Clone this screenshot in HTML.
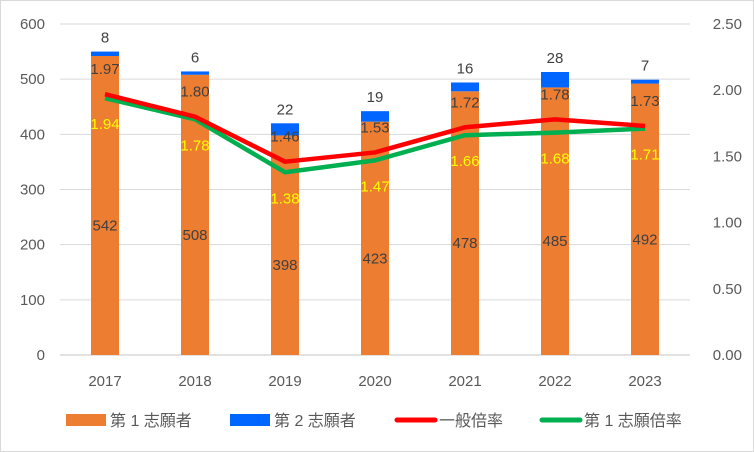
<!DOCTYPE html>
<html><head><meta charset="utf-8"><style>
body{margin:0;background:#fff}
svg{display:block;font-family:"Liberation Sans","Noto Sans CJK JP",sans-serif}
</style></head><body>
<svg id="c" width="754" height="452">
<rect x="0.5" y="0.5" width="753" height="451" fill="#fff" stroke="#d9d9d9"/>
<g id="g"></g>
</svg>
<script>
const years=['2017','2018','2019','2020','2021','2022','2023'];
const first=[542,508,398,423,478,485,492];
const second=[8,6,22,19,16,28,7];
const generalRate=[1.97,1.80,1.46,1.53,1.72,1.78,1.73];
const firstRate=[1.94,1.78,1.38,1.47,1.66,1.68,1.71];
const leftTicks=[0,100,200,300,400,500,600];
const rightTicks=['0.00','0.50','1.00','1.50','2.00','2.50'];

const NS='http://www.w3.org/2000/svg';
const g=document.getElementById('g');
const X0=60,X1=690,Y0=355,Y1=24;
const xc=i=>X0+(X1-X0)/years.length*(i+0.5);
const yL=v=>Y0-(Y0-Y1)*v/600;
const yR=v=>Y0-(Y0-Y1)*v/2.5;
function mk(t,a,txt){const e=document.createElementNS(NS,t);for(const k in a)e.setAttribute(k,a[k]);if(txt!==undefined)e.textContent=txt;g.appendChild(e);return e;}

leftTicks.forEach(v=>{
  const l=mk('line',{x1:X0,x2:X1,y1:yL(v),y2:yL(v),stroke:'#d9d9d9','stroke-width':v===0?1.5:1});
  
  
  const t=mk('text',{x:45,y:yL(v)+5,'text-anchor':'end','font-size':15,fill:'#595959'},v);
  
  
});
rightTicks.forEach(v=>{
  const t=mk('text',{x:742,y:yR(+v)+5,'text-anchor':'end','font-size':15,fill:'#595959'},v);
  
  
});
const bw=28;
years.forEach((yr,i)=>{
  const cx=xc(i);
  const b1=mk('rect',{x:cx-bw/2,y:yL(first[i]),width:bw,height:Y0-yL(first[i]),fill:'#ED7D31'});
  
  
  const top=first[i]+second[i];
  const b2=mk('rect',{x:cx-bw/2,y:yL(top),width:bw,height:yL(first[i])-yL(top),fill:'#0066FF'});
  
  
  const t1=mk('text',{x:cx,y:(yL(first[i])+Y0)/2+25,'text-anchor':'middle','font-size':15,fill:'#404040'},first[i]);
  
  
  const t2=mk('text',{x:cx,y:yL(top)-9,'text-anchor':'middle','font-size':15,fill:'#404040'},second[i]);
  
  
  const xl=mk('text',{x:cx,y:386,'text-anchor':'middle','font-size':15,fill:'#595959'},yr);
  
  
});
const gl=mk('polyline',{points:firstRate.map((v,i)=>xc(i)+','+yR(v)).join(' '),fill:'none',stroke:'#00B050','stroke-width':4.5,'stroke-linejoin':'round'});


const rl=mk('polyline',{points:generalRate.map((v,i)=>xc(i)+','+yR(v)).join(' '),fill:'none',stroke:'#FF0000','stroke-width':4.5,'stroke-linejoin':'round'});


years.forEach((yr,i)=>{
  const a=mk('text',{x:xc(i),y:yR(generalRate[i])-20,'text-anchor':'middle','font-size':15,fill:'#404040'},generalRate[i].toFixed(2));
  
  
  const b=mk('text',{x:xc(i),y:yR(firstRate[i])+31,'text-anchor':'middle','font-size':15,fill:'#FFFF00'},firstRate[i].toFixed(2));
  
  
});
const leg=[['第 1 志願者','#ED7D31',66,'rect'],['第 2 志願者','#0066FF',230,'rect'],['一般倍率','#FF0000',395,'line'],['第 1 志願倍率','#00B050',540,'line']];
leg.forEach(([n,c,x,k])=>{
  let s;
  if(k==='rect')s=mk('rect',{x:x,y:414,width:40,height:12,fill:c});
  else s=mk('line',{x1:x+2,x2:x+40,y1:420,y2:420,stroke:c,'stroke-width':5,'stroke-linecap':'round'});
  
  
  const t=mk('text',{x:x+44,y:426,'font-size':16,fill:'#595959'},n);
  
  
});
</script>
</body></html>
